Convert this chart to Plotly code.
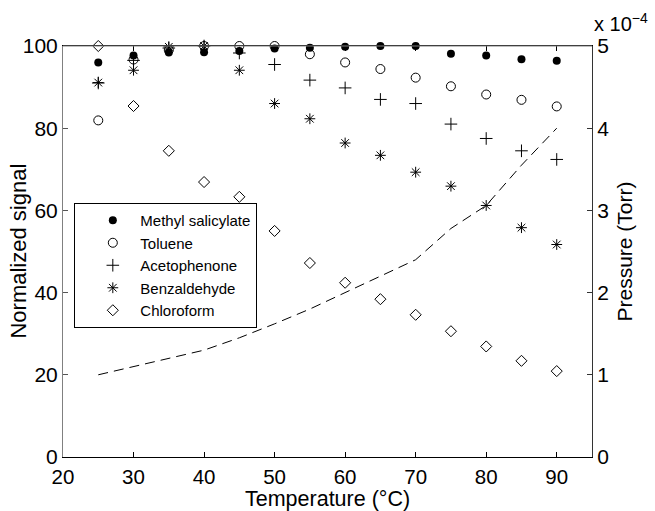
import plotly.graph_objects as go

temps = [25, 30, 35, 40, 45, 50, 55, 60, 65, 70, 75, 80, 85, 90]
methyl_salicylate = [96.0, 97.7, 98.4, 98.5, 98.8, 99.4, 99.6, 99.8, 100.0, 100.0, 98.1, 97.7, 96.8, 96.4]
toluene = [81.9, 96.7, 99.0, 100.0, 100.0, 100.0, 98.0, 96.0, 94.4, 92.3, 90.2, 88.2, 86.9, 85.3]
acetophenone = [91.0, 96.5, 99.5, 100.0, 98.3, 95.5, 91.7, 89.8, 87.0, 86.0, 81.0, 77.5, 74.5, 72.4]
benzaldehyde = [91.1, 94.1, 99.8, 100.0, 94.1, 86.0, 82.3, 76.4, 73.4, 69.3, 65.9, 61.2, 55.8, 51.7]
chloroform = [100.0, 85.4, 74.5, 66.9, 63.3, 55.0, 47.2, 42.4, 38.4, 34.6, 30.6, 26.9, 23.4, 20.9]
pressure_torr = [1.00e-4, 1.10e-4, 1.20e-4, 1.30e-4, 1.45e-4, 1.62e-4, 1.80e-4, 2.00e-4,
                 2.20e-4, 2.40e-4, 2.78e-4, 3.06e-4, 3.55e-4, 4.00e-4]

x_ticks = [20, 30, 40, 50, 60, 70, 80, 90]
y_ticks = [0, 20, 40, 60, 80, 100]
p_ticks = [0, 1e-4, 2e-4, 3e-4, 4e-4, 5e-4]
p_ticklabels = ["0", "1", "2", "3", "4", "5"]

FONT = "Liberation Sans, Arial, Helvetica, sans-serif"

fig = go.Figure()

fig.add_trace(go.Scatter(x=temps, y=pressure_torr, yaxis="y2", mode="lines",
                         line=dict(color="black", width=1, dash="10px,6px"),
                         showlegend=False, hoverinfo="skip"))

common = dict(mode="markers", cliponaxis=False)
fig.add_trace(go.Scatter(x=temps, y=methyl_salicylate, name="Methyl salicylate",
                         marker=dict(symbol="circle", size=8, color="black"), **common))
fig.add_trace(go.Scatter(x=temps, y=toluene, name="Toluene",
                         marker=dict(symbol="circle-open", size=9, color="black", line=dict(width=1)), **common))
fig.add_trace(go.Scatter(x=temps, y=acetophenone, name="Acetophenone",
                         marker=dict(symbol="cross-thin-open", size=9, color="black", line=dict(width=1)), **common))
fig.add_trace(go.Scatter(x=temps, y=benzaldehyde, name="Benzaldehyde",
                         marker=dict(symbol="asterisk-open", size=9, color="black", line=dict(width=1)), **common))
fig.add_trace(go.Scatter(x=temps, y=chloroform, name="Chloroform",
                         marker=dict(symbol="diamond-open", size=8.5, color="black", line=dict(width=1)), **common))

fig.update_layout(
    width=655, height=511,
    margin=dict(l=63, r=63, t=46, b=54, autoexpand=False),
    paper_bgcolor="white", plot_bgcolor="white",
    font=dict(family=FONT, size=21, color="black"),
    xaxis=dict(range=[20, 95], tickvals=x_ticks, ticks="inside", ticklen=5, tickcolor="black",
               showgrid=False, zeroline=False, showline=True, linecolor="black", linewidth=1,
               mirror="ticks", ticklabelstandoff=1, tickfont=dict(size=20.5)),
    yaxis=dict(range=[0, 100], tickvals=y_ticks, ticks="inside", ticklen=5, tickcolor="#555",
               showgrid=False, zeroline=False, showline=True, linecolor="#808080", linewidth=1,
               tickfont=dict(size=21)),
    yaxis2=dict(range=[0, 5e-4], tickvals=p_ticks, ticktext=p_ticklabels, overlaying="y", side="right",
                ticks="inside", ticklen=5, tickcolor="#333", showgrid=False, zeroline=False,
                showline=True, linecolor="#333", linewidth=1,
                title=dict(text="Pressure (Torr)", font=dict(size=21), standoff=9),
                tickfont=dict(size=21)),
    legend=dict(x=0.0214, y=0.618, xanchor="left", yanchor="top", bordercolor="black", borderwidth=1,
                bgcolor="white", font=dict(size=15), tracegroupgap=0, itemwidth=45, indentation=10),
    shapes=[dict(type="line", xref="paper", yref="paper", x0=0, x1=1, y0=1, y1=1,
                 line=dict(color="#808080", width=1), layer="above")],
    annotations=[
        dict(xref="paper", yref="paper", x=1, y=1, xanchor="left", yanchor="bottom",
             xshift=0, yshift=9, showarrow=False,
             text="x 10<sup>\u22124</sup>", font=dict(size=20)),
        dict(xref="paper", yref="paper", x=-0.085, y=0.5, xanchor="center", yanchor="middle",
             textangle=-90, showarrow=False, text="Normalized signal", font=dict(size=22)),
        dict(xref="paper", yref="paper", x=0.5, y=-0.103, xanchor="center", yanchor="middle",
             showarrow=False, text="Temperature (\u00b0C)", font=dict(size=21.5)),
    ],
)

fig.write_html("out.html")
